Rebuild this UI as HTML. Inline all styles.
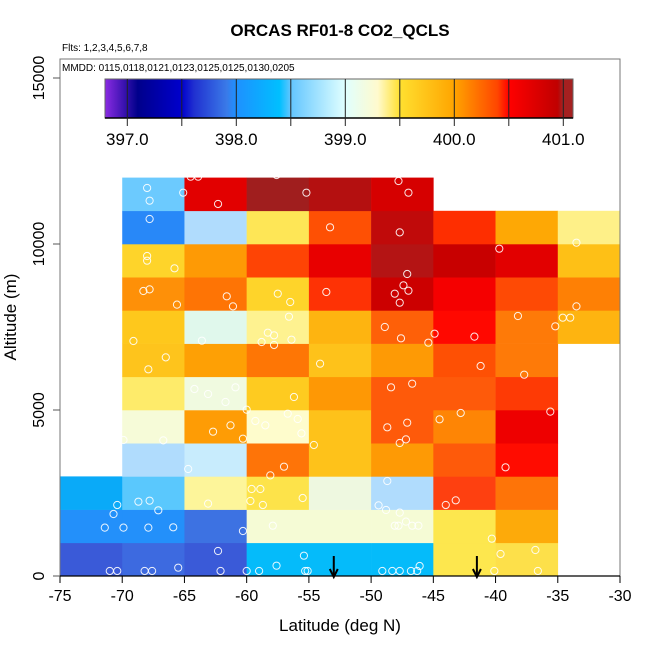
<!DOCTYPE html>
<html><head><meta charset="utf-8"><style>
body{margin:0;background:#fff}
svg text{font-family:"Liberation Sans",sans-serif}
</style></head><body>
<svg id="c" width="650" height="650" viewBox="0 0 650 650" xmlns="http://www.w3.org/2000/svg">
<defs>
<linearGradient id="cb" x1="0" x2="1" y1="0" y2="0">
<stop offset="0" stop-color="#8a2be2"/>
<stop offset="0.07" stop-color="#00008b"/>
<stop offset="0.164" stop-color="#0000cd"/>
<stop offset="0.19" stop-color="#2030d0"/>
<stop offset="0.26" stop-color="#3a7ae8"/>
<stop offset="0.28" stop-color="#1e90ff"/>
<stop offset="0.373" stop-color="#00bfff"/>
<stop offset="0.397" stop-color="#63c6ff"/>
<stop offset="0.513" stop-color="#e0ffff"/>
<stop offset="0.583" stop-color="#fffacd"/>
<stop offset="0.63" stop-color="#ffe030"/>
<stop offset="0.745" stop-color="#ffa500"/>
<stop offset="0.839" stop-color="#ff4500"/>
<stop offset="0.863" stop-color="#ff0000"/>
<stop offset="0.967" stop-color="#c00000"/>
<stop offset="0.977" stop-color="#a52020"/>
<stop offset="1" stop-color="#a52020"/>
</linearGradient>
</defs>
</svg>
<script>
const lats=[-75,-70,-65,-60,-55,-50,-45,-40,-35];
const altBins=[0,1000,2000,3000,4000,5000,6000,7000,8000,9000,10000,11000];
const cellColors=[
["#3a5ad8","#3d6ae0","#3a5ad8","#05bbfa","#05bbfa","#05bbfa","#fde74e","#fde04a",null],
["#2390fa","#2390fa","#3d72e2","#f5fbd5","#f5fbd5","#f5fbd5","#fde74e","#fdaa0a",null],
["#0aaaf8","#5ac8fd","#fdf59a","#fde34a","#eef8e0","#b0dcfd","#fe4010","#fe7408",null],
[null,"#b0dcfd","#c8ecfd","#fe7408","#fec21a","#fe9a05","#fe5a0a","#ff0c00",null],
[null,"#f6fbd8","#fe9c05","#fefccc","#fec21a","#fe5a0a","#fe8505","#ee0000",null],
[null,"#feeb6a","#f0fae0","#fecb20","#fe9805","#fe5a0a","#fe5a0a","#fe3a05",null],
[null,"#fec41c","#fea005","#fe7605","#fec21a","#fe9a05","#fe5004","#fe7a08",null],
[null,"#fec81c","#e0f8ec","#fef290","#feb410","#fe6008","#ff0800","#fe7a08","#feb410"],
[null,"#fe9008","#fe7405","#fed42a","#fe3205","#cc0000","#f50000","#fe4a05","#fe8005"],
[null,"#fed42a","#fe9a05","#fe4405","#e80000","#b41414","#c80000","#e20000","#fec016"],
[null,"#2888f8","#b0dcfd","#fee656","#fe5004","#c00a0a","#fe2e00","#fea805","#fef088"],
[null,"#6ccafe","#e20000","#a01e1e","#b41010","#d60000",null,null,null]];
const ptLat=[-68.0,-67.8,-65.1,-67.8,-62.3,-64.5,-63.9,-57.6,-55.2,-47.8,-47.0,-47.7,-53.3,-39.7,-33.5,-68.0,-68.0,-65.8,-47.1,-47.4,-48.1,-47.0,-47.7,-68.3,-67.8,-65.6,-61.6,-61.1,-57.5,-56.5,-53.6,-33.5,-56.6,-58.3,-57.8,-58.8,-57.8,-56.4,-48.9,-47.6,-44.9,-45.4,-41.7,-38.2,-34.6,-34.0,-35.2,-69.1,-63.6,-66.5,-67.9,-54.1,-41.2,-37.7,-48.4,-46.7,-64.2,-63.1,-60.9,-61.7,-56.2,-60.0,-56.7,-55.9,-59.3,-58.5,-55.6,-60.3,-62.7,-61.3,-66.7,-69.9,-54.6,-48.7,-47.1,-47.2,-47.7,-44.5,-42.8,-35.6,-57.0,-58.1,-64.7,-39.2,-48.7,-59.6,-58.9,-59.7,-58.7,-55.5,-63.1,-68.7,-67.8,-70.4,-67.1,-70.7,-71.4,-69.9,-67.9,-65.9,-60.3,-57.9,-49.4,-48.8,-47.7,-47.2,-48.1,-47.8,-46.7,-46.2,-44.0,-43.2,-40.3,-62.3,-55.4,-39.6,-36.8,-65.5,-71.0,-70.4,-68.2,-67.6,-62.1,-60.0,-59.0,-55.3,-55.1,-49.1,-48.3,-47.7,-46.8,-46.3,-40.1,-36.6,-57.6,-46.1];
const ptAlt=[11687,11305,11546,10753,11205,12028,12028,12078,11546,11897,11546,10351,10502,9859,10040,9638,9498,9267,9096,8755,8504,8594,8233,8584,8634,8173,8424,8122,8504,8253,8554,8122,7811,7329,7249,7048,6958,7118,7500,7159,7299,7028,7209,7831,7781,7781,7520,7078,7088,6586,6225,6395,6325,6064,5683,5793,5632,5482,5683,5241,5391,5010,4889,4729,4669,4538,4297,4136,4347,4538,4086,4096,3946,4478,4618,4116,4006,4719,4910,4950,3293,3032,3223,3273,2861,2620,2620,2259,2139,2349,2179,2239,2269,2139,1978,1867,1456,1456,1456,1466,1355,1516,2128,1988,1908,1637,1516,1516,1516,1516,2139,2279,1124,753,612,663,783,251,151,151,151,151,151,151,151,151,151,151,151,151,151,151,151,151,311,301];
const xTicks=[-75,-70,-65,-60,-55,-50,-45,-40,-35,-30];
const yTicks=[0,5000,10000,15000];
const cbTicks=[397,398,399,400,401];
const cbMinor=[397,397.5,398,398.5,399,399.5,400,400.5,401];
const arrowLats=[-53,-41.5];

const NS="http://www.w3.org/2000/svg";
const svg=document.getElementById('c');
const X=v=>60+(v+75)*560/45;
const Y=a=>576-a*0.0332;
const CB=v=>127.3+(v-397)*109;
function mk(t,at,parent){const e=document.createElementNS(NS,t);for(const k in at)e.setAttribute(k,at[k]);(parent||svg).appendChild(e);return e;}

const gCells=mk('g',{});


cellColors.forEach((row,i)=>row.forEach((c,j)=>{
 if(!c)return;
 const x0=X(lats[j]),x1=X(lats[j]+5),y0=Y(altBins[i]+1000),y1=Y(altBins[i]);
 const r=mk('rect',{x:x0,y:y0,width:x1-x0+0.3,height:y1-y0+0.3,fill:c},gCells);
 
 
}));
const gPts=mk('g',{});


ptLat.forEach((la,i)=>{
 const c=mk('circle',{cx:X(la),cy:Y(ptAlt[i]),r:3.6,fill:'none',stroke:'#fff','stroke-width':1,'stroke-opacity':0.9},gPts);
 
 
});
arrowLats.forEach(la=>{
 const g=mk('g',{});
 
 
 const x=X(la);
 mk('line',{x1:x,y1:556,x2:x,y2:576,stroke:'#000','stroke-width':2},g);
 mk('path',{d:`M${x-4} ${569} L${x} ${577} L${x+4} ${569}`,fill:'none',stroke:'#000','stroke-width':2},g);
});
const fr=mk('rect',{x:60,y:59,width:560,height:517,fill:'none',stroke:'#777','stroke-width':1});


mk('line',{x1:60,y1:576,x2:620,y2:576,stroke:'#000','stroke-width':1.3});
xTicks.forEach(v=>{
 mk('line',{x1:X(v),y1:576,x2:X(v),y2:583,stroke:'#000'});
 const t=mk('text',{x:X(v),y:601,'font-size':16,'text-anchor':'middle'});
 t.textContent=v;
 
 
});
yTicks.forEach(v=>{
 mk('line',{x1:53,y1:Y(v),x2:60,y2:Y(v),stroke:'#555'});
 const t=mk('text',{x:44,y:Y(v),'font-size':16,'text-anchor':'middle',transform:`rotate(-90 44 ${Y(v)})`});
 t.textContent=v;
 
 
});
const gcb=mk('g',{});


mk('rect',{x:105,y:79,width:468,height:39,fill:'url(#cb)',stroke:'#666','stroke-width':1},gcb);
mk('line',{x1:105,y1:118,x2:573,y2:118,stroke:'#000','stroke-width':1.5},gcb);
cbMinor.forEach(v=>{mk('line',{x1:CB(v),y1:79,x2:CB(v),y2:126,stroke:'#222','stroke-width':1},gcb);});
cbTicks.forEach(v=>{
 const t=mk('text',{x:CB(v),y:145,'font-size':17,'text-anchor':'middle'},gcb);
 t.textContent=v.toFixed(1);
 
 
});
function txt(s,at,name){const t=mk('text',at);t.textContent=s;}
txt('ORCAS RF01-8 CO2_QCLS',{x:340,y:36,'font-size':17,'font-weight':'bold','text-anchor':'middle'},'chart-title');
txt('Flts: 1,2,3,4,5,6,7,8',{x:62,y:51,'font-size':10},'flights-note');
txt('MMDD: 0115,0118,0121,0123,0125,0125,0130,0205',{x:62,y:71,'font-size':10},'dates-note');
txt('Latitude (deg N)',{x:340,y:631,'font-size':17,'text-anchor':'middle'},'x-axis-title');
txt('Altitude (m)',{x:16,y:317,'font-size':17,'text-anchor':'middle',transform:'rotate(-90 16 317)'},'y-axis-title');
</script>
</body></html>
